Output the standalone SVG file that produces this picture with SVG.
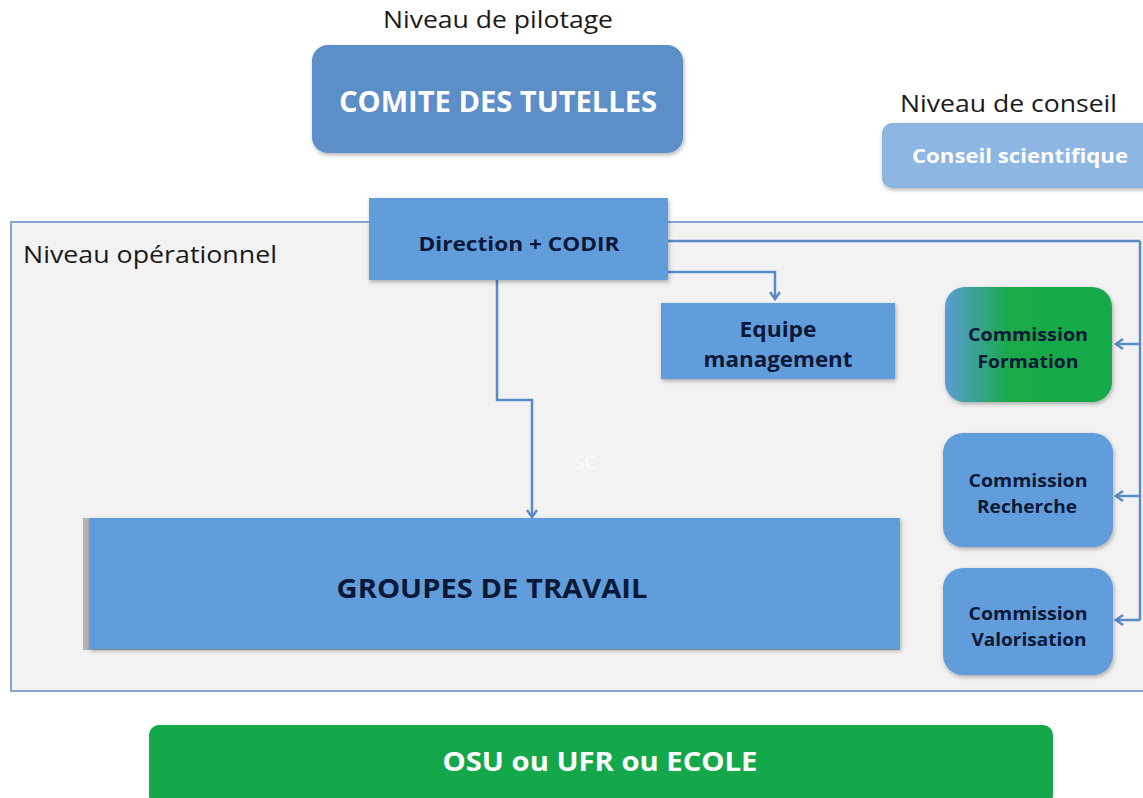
<svg xmlns="http://www.w3.org/2000/svg" width="1143" height="798" viewBox="0 0 1143 798">
<defs>
<style>
.lbl{font-family:"Open Sans","Liberation Sans",sans-serif;fill:#1a1a1a;font-size:24px}
.bt{font-family:"Open Sans","Liberation Sans",sans-serif;font-weight:bold;fill:#0c1838;text-anchor:middle}
.wt{font-family:"Open Sans","Liberation Sans",sans-serif;font-weight:bold;fill:#ffffff;text-anchor:middle}
.box{fill:#629ddb}
.con{fill:none;stroke:#5a8bc7;stroke-width:2.5}
</style>
<filter id="sh" x="-10%" y="-10%" width="120%" height="130%">
<feDropShadow dx="1" dy="2" stdDeviation="2" flood-color="#000" flood-opacity="0.3"/>
</filter>
<linearGradient id="gf" x1="0" y1="0" x2="1" y2="0">
<stop offset="0" stop-color="#5b9bd5"/>
<stop offset="0.38" stop-color="#1aaa4a"/>
<stop offset="1" stop-color="#17a948"/>
</linearGradient>
<marker id="ar" markerWidth="12" markerHeight="12" refX="9" refY="6" orient="auto" markerUnits="userSpaceOnUse">
<path d="M2,1 L9,6 L2,11" fill="none" stroke="#5a8bc7" stroke-width="2.5"/>
</marker>
</defs>
<rect width="1143" height="798" fill="#ffffff"/>

<g id="pilotage">
<text class="lbl" x="383" y="28" textLength="230" lengthAdjust="spacingAndGlyphs">Niveau de pilotage</text>
<rect x="312" y="45" width="371" height="108" rx="16" fill="#5b8ec8" filter="url(#sh)"/>
<text class="wt" x="498" y="112" font-size="28" textLength="318" lengthAdjust="spacingAndGlyphs">COMITE DES TUTELLES</text>
</g>

<g id="conseil">
<text class="lbl" x="900" y="112" textLength="217" lengthAdjust="spacingAndGlyphs">Niveau de conseil</text>
<rect x="882" y="123" width="275" height="65" rx="10" fill="#8db6e3" filter="url(#sh)"/>
<text class="wt" x="1020" y="163" font-size="20" textLength="216" lengthAdjust="spacingAndGlyphs">Conseil scientifique</text>
</g>

<g id="operationnel">
<rect x="11" y="222" width="1140" height="469" fill="#f2f2f2" stroke="#86a6d0" stroke-width="2"/>
<text class="lbl" x="23" y="263" textLength="254" lengthAdjust="spacingAndGlyphs">Niveau opérationnel</text>
<text x="585" y="469" font-family="'Open Sans','Liberation Sans',sans-serif" font-size="18" fill="#fdfdfd" text-anchor="middle">SC</text>
</g>

<g id="connectors">
<path class="con" d="M668,241 H1140" stroke-width="4.5"/>
<path class="con" d="M1140,241 V620"/>
<path class="con" d="M1140,344 H1116" marker-end="url(#ar)"/>
<path class="con" d="M1140,496 H1116" marker-end="url(#ar)"/>
<path class="con" d="M1140,620 H1116" marker-end="url(#ar)"/>
<path class="con" d="M668,272 H775 V299" marker-end="url(#ar)"/>
<path class="con" d="M497,280 V400 H532 V517" marker-end="url(#ar)"/>
</g>

<g id="direction">
<rect class="box" x="369" y="198" width="299" height="82" filter="url(#sh)"/>
<text class="bt" x="519" y="251" font-size="20" textLength="201" lengthAdjust="spacingAndGlyphs">Direction + CODIR</text>
</g>

<g id="equipe">
<rect class="box" x="661" y="303" width="234" height="76" filter="url(#sh)"/>
<text class="bt" x="778" y="337" font-size="21" textLength="77" lengthAdjust="spacingAndGlyphs">Equipe</text>
<text class="bt" x="778" y="367" font-size="21" textLength="149" lengthAdjust="spacingAndGlyphs">management</text>
</g>

<g id="formation">
<rect x="945" y="287" width="167" height="115" rx="20" fill="url(#gf)" filter="url(#sh)"/>
<text class="bt" x="1028" y="341" font-size="18" textLength="120" lengthAdjust="spacingAndGlyphs">Commission</text>
<text class="bt" x="1028" y="368" font-size="18" textLength="101" lengthAdjust="spacingAndGlyphs">Formation</text>
</g>

<g id="recherche">
<rect class="box" x="943" y="433" width="170" height="114" rx="20" filter="url(#sh)"/>
<text class="bt" x="1028" y="487" font-size="18" textLength="119" lengthAdjust="spacingAndGlyphs">Commission</text>
<text class="bt" x="1027" y="513" font-size="18" textLength="100" lengthAdjust="spacingAndGlyphs">Recherche</text>
</g>

<g id="valorisation">
<rect class="box" x="943" y="568" width="170" height="107" rx="20" filter="url(#sh)"/>
<text class="bt" x="1028" y="620" font-size="18" textLength="119" lengthAdjust="spacingAndGlyphs">Commission</text>
<text class="bt" x="1029" y="646" font-size="18" textLength="115" lengthAdjust="spacingAndGlyphs">Valorisation</text>
</g>

<g id="groupes">
<rect x="83" y="518" width="817" height="132" fill="#9a9a9a" opacity="0.7"/>
<rect class="box" x="89" y="518" width="811" height="131" filter="url(#sh)"/>
<text class="bt" x="492" y="598" font-size="27" textLength="311" lengthAdjust="spacingAndGlyphs">GROUPES DE TRAVAIL</text>
</g>

<g id="osu">
<rect x="149" y="725" width="904" height="80" rx="10" fill="#14a84b"/>
<text class="wt" x="600" y="771" font-size="27" textLength="315" lengthAdjust="spacingAndGlyphs">OSU ou UFR ou ECOLE</text>
</g>
</svg>
